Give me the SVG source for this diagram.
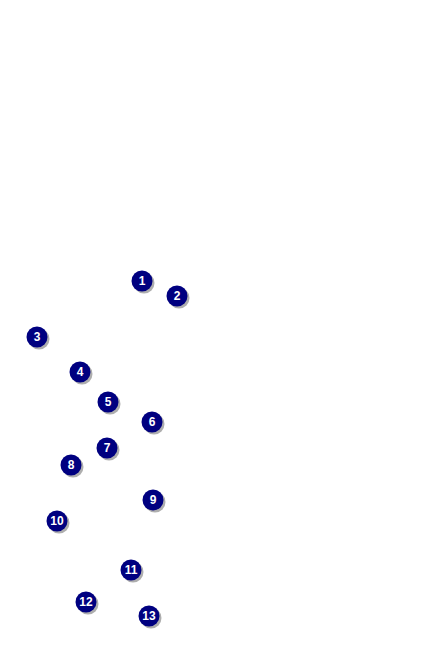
<svg xmlns="http://www.w3.org/2000/svg" width="432" height="650" viewBox="0 0 432 650">
<style>
.sh{fill:#9a9a9a;opacity:0.8}
.c{fill:#000080}
.t{fill:#fff;font-family:"Liberation Sans",Arial,sans-serif;font-weight:bold;font-size:12px;text-anchor:middle}
</style>
<defs>
<g id="m"><circle class="sh" cx="2" cy="2" r="10.5"/><circle class="c" r="10.5"/></g>
</defs>
<rect width="432" height="650" fill="#fff"/>
<g id="connectors"/>
<g id="n1"><use href="#m" x="142" y="281"/><text class="t" x="142" y="285">1</text></g>
<g id="n2"><use href="#m" x="177" y="296"/><text class="t" x="177" y="300">2</text></g>
<g id="n3"><use href="#m" x="37" y="337"/><text class="t" x="37" y="341">3</text></g>
<g id="n4"><use href="#m" x="80" y="372"/><text class="t" x="80" y="376">4</text></g>
<g id="n5"><use href="#m" x="108" y="402"/><text class="t" x="108" y="406">5</text></g>
<g id="n6"><use href="#m" x="152" y="422"/><text class="t" x="152" y="426">6</text></g>
<g id="n7"><use href="#m" x="107" y="448"/><text class="t" x="107" y="452">7</text></g>
<g id="n8"><use href="#m" x="71" y="465"/><text class="t" x="71" y="469">8</text></g>
<g id="n9"><use href="#m" x="153" y="500"/><text class="t" x="153" y="504">9</text></g>
<g id="n10"><use href="#m" x="57" y="521"/><text class="t" x="57" y="525">10</text></g>
<g id="n11"><use href="#m" x="131" y="570"/><text class="t" x="131" y="574">11</text></g>
<g id="n12"><use href="#m" x="86" y="602"/><text class="t" x="86" y="606">12</text></g>
<g id="n13"><use href="#m" x="149" y="616"/><text class="t" x="149" y="620">13</text></g>
</svg>
